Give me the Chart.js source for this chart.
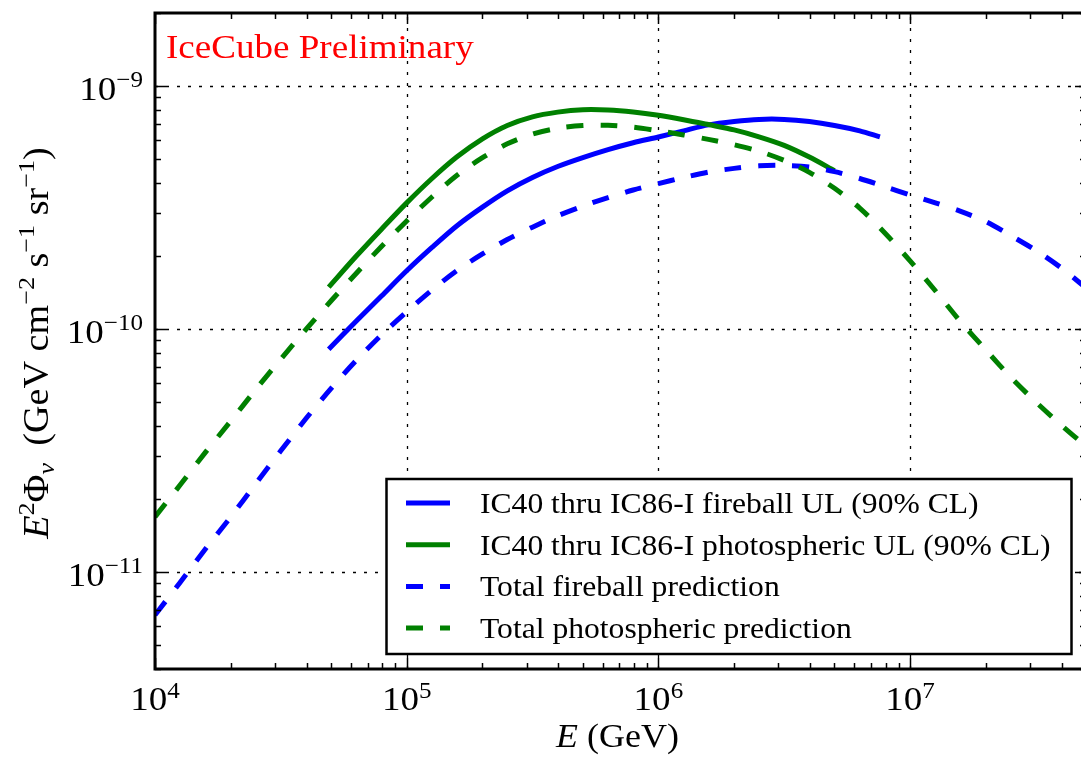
<!DOCTYPE html>
<html>
<head>
<meta charset="utf-8">
<script src="https://cdn.jsdelivr.net/npm/chart.js@4.4.0/dist/chart.umd.min.js"></script>
<style>
  html, body { margin: 0; padding: 0; background: #fff; overflow: hidden; }
  #wrap { width: 1100px; height: 760px; }
</style>
</head>
<body>
<div id="wrap"><canvas id="grbLimits" width="1100" height="760"></canvas></div>
<script>
// Energies in GeV, fluxes as E^2 Phi in GeV cm^-2 s^-1 sr^-1
const fireballUL_E = [4.9e4, 6.31e4, 7.94e4, 1e5, 1.26e5, 1.58e5, 2e5, 2.51e5, 3.16e5, 3.98e5, 5.01e5, 6.31e5, 7.94e5,
                      1e6, 1.26e6, 1.58e6, 2e6, 2.51e6, 3.16e6, 3.98e6, 5.01e6, 6.31e6, 7.59e6];
const fireballUL   = [8.28e-11, 1.08e-10, 1.37e-10, 1.74e-10, 2.17e-10, 2.66e-10, 3.18e-10, 3.71e-10, 4.21e-10, 4.67e-10, 5.08e-10, 5.48e-10, 5.85e-10,
                      6.18e-10, 6.55e-10, 6.93e-10, 7.16e-10, 7.30e-10, 7.30e-10, 7.15e-10, 6.89e-10, 6.55e-10, 6.19e-10];

const photoUL_E = [4.9e4, 6.31e4, 7.94e4, 1e5, 1.26e5, 1.58e5, 2e5, 2.51e5, 3.16e5, 3.98e5, 5.01e5, 6.31e5, 7.94e5,
                   1e6, 1.26e6, 1.58e6, 2e6, 2.51e6, 3.16e6, 3.98e6, 5.01e6];
const photoUL   = [1.49e-10, 2.00e-10, 2.58e-10, 3.31e-10, 4.17e-10, 5.11e-10, 6.07e-10, 6.89e-10, 7.48e-10, 7.82e-10, 8.00e-10, 7.98e-10, 7.83e-10,
                   7.59e-10, 7.28e-10, 6.95e-10, 6.61e-10, 6.19e-10, 5.71e-10, 5.11e-10, 4.49e-10];

// model predictions share one energy grid
const predE = [1e4, 1.26e4, 1.58e4, 2e4, 2.51e4, 3.16e4, 3.98e4, 5.01e4, 6.31e4, 7.94e4,
               1e5, 1.26e5, 1.58e5, 2e5, 2.51e5, 3.16e5, 3.98e5, 5.01e5, 6.31e5, 7.94e5,
               1e6, 1.26e6, 1.58e6, 2e6, 2.51e6, 3.16e6, 3.98e6, 5.01e6, 6.31e6, 7.94e6,
               1e7, 1.26e7, 1.58e7, 2e7, 2.51e7, 3.16e7, 3.98e7, 5e7];
const fireballPred = [6.67e-12, 9.10e-12, 1.24e-11, 1.69e-11, 2.31e-11, 3.16e-11, 4.29e-11, 5.71e-11, 7.45e-11, 9.48e-11,
                      1.18e-10, 1.45e-10, 1.74e-10, 2.04e-10, 2.34e-10, 2.63e-10, 2.93e-10, 3.21e-10, 3.48e-10, 3.74e-10,
                      3.97e-10, 4.21e-10, 4.43e-10, 4.59e-10, 4.70e-10, 4.72e-10, 4.65e-10, 4.45e-10, 4.17e-10, 3.86e-10,
                      3.57e-10, 3.31e-10, 3.06e-10, 2.77e-10, 2.43e-10, 2.11e-10, 1.79e-10, 1.48e-10];
const photoPred    = [1.69e-11, 2.29e-11, 3.10e-11, 4.19e-11, 5.64e-11, 7.53e-11, 9.98e-11, 1.31e-10, 1.70e-10, 2.19e-10,
                      2.79e-10, 3.50e-10, 4.29e-10, 5.08e-10, 5.79e-10, 6.35e-10, 6.71e-10, 6.89e-10, 6.90e-10, 6.78e-10,
                      6.55e-10, 6.30e-10, 6.04e-10, 5.74e-10, 5.40e-10, 4.95e-10, 4.42e-10, 3.80e-10, 3.15e-10, 2.49e-10,
                      1.91e-10, 1.44e-10, 1.08e-10, 8.22e-11, 6.35e-11, 5.02e-11, 4.04e-11, 3.30e-11];

const seriesLabels = [
  'IC40 thru IC86-I fireball UL (90% CL)',
  'IC40 thru IC86-I photospheric UL (90% CL)',
  'Total fireball prediction',
  'Total photospheric prediction'
];
const xDecades = [4, 5, 6, 7];
const yDecades = [-11, -10, -9];
const xRange = [1e4, 5e7];
const yRange = [4e-12, 2e-9];

const SERIF = '"Liberation Serif", "Times New Roman", serif';
const STRETCH = 1.09;   // widen Times glyphs a little towards Computer Modern proportions

function setFont(ctx, size, italic) {
  ctx.font = (italic ? 'italic ' : '') + size + 'px ' + SERIF;
}

// parts: [text, size, italic, dy]
function drawRich(ctx, parts, x, y, align) {
  let w = 0;
  parts.forEach(p => { setFont(ctx, p[1], p[2]); w += ctx.measureText(p[0]).width * STRETCH; });
  let cx = align === 'center' ? x - w / 2 : align === 'right' ? x - w : x;
  ctx.textAlign = 'left';
  ctx.textBaseline = 'alphabetic';
  parts.forEach(p => {
    setFont(ctx, p[1], p[2]);
    ctx.save();
    ctx.translate(cx, y + (p[3] || 0));
    ctx.scale(STRETCH, 1);
    ctx.fillText(p[0], 0, 0);
    ctx.restore();
    cx += ctx.measureText(p[0]).width * STRETCH;
  });
}

function supMinus(n) { return n < 0 ? '\u2212' + (-n) : String(n); }

function minorValues(decades, lo, hi) {
  const out = [];
  for (let d = decades[0] - 1; d <= decades[decades.length - 1] + 1; d++) {
    for (let m = 1; m <= 9; m++) {
      const v = m * Math.pow(10, d);
      if (v >= lo && v <= hi) out.push({ v, major: m === 1 });
    }
  }
  return out;
}

const axesPlugin = {
  id: 'mplAxes',
  beforeDatasetsDraw(chart) {
    const { ctx, chartArea: a, scales: { x, y } } = chart;
    ctx.save();
    ctx.strokeStyle = '#000';
    ctx.lineWidth = 1.3;
    ctx.setLineDash([3, 8]);
    xDecades.forEach(d => {
      const px = Math.round(x.getPixelForValue(Math.pow(10, d))) + 0.5;
      if (px <= a.left + 2) return;
      ctx.beginPath(); ctx.moveTo(px, a.bottom); ctx.lineTo(px, a.top); ctx.stroke();
    });
    yDecades.forEach(d => {
      const py = Math.round(y.getPixelForValue(Math.pow(10, d))) + 0.5;
      ctx.beginPath(); ctx.moveTo(a.left, py); ctx.lineTo(a.right, py); ctx.stroke();
    });
    ctx.restore();
  },
  afterDraw(chart) {
    const { ctx, chartArea: a, scales: { x, y } } = chart;
    ctx.save();
    ctx.fillStyle = '#000';
    ctx.strokeStyle = '#000';
    ctx.setLineDash([]);

    // inward ticks on all four sides
    ctx.lineWidth = 1.5;
    minorValues(xDecades, xRange[0], xRange[1]).forEach(t => {
      const px = Math.round(x.getPixelForValue(t.v)) + 0.5;
      const len = t.major ? 11 : 6;
      ctx.beginPath();
      ctx.moveTo(px, a.bottom); ctx.lineTo(px, a.bottom - len);
      ctx.moveTo(px, a.top); ctx.lineTo(px, a.top + len);
      ctx.stroke();
    });
    minorValues(yDecades, yRange[0], yRange[1]).forEach(t => {
      const py = Math.round(y.getPixelForValue(t.v)) + 0.5;
      const len = t.major ? 11 : 6;
      ctx.beginPath();
      ctx.moveTo(a.left, py); ctx.lineTo(a.left + len, py);
      ctx.moveTo(a.right, py); ctx.lineTo(a.right - len, py);
      ctx.stroke();
    });

    // frame
    ctx.lineWidth = 3;
    ctx.strokeRect(a.left, a.top, a.right - a.left, a.bottom - a.top);

    // tick labels
    xDecades.forEach(d => {
      const px = x.getPixelForValue(Math.pow(10, d));
      drawRich(ctx, [['10', 34], [String(d), 23, false, -12]], px, 710, 'center');
    });
    yDecades.forEach(d => {
      const py = y.getPixelForValue(Math.pow(10, d));
      drawRich(ctx, [['10', 34], [supMinus(d), 23, false, -13]], 143, py + 14, 'right');
    });

    // axis titles
    drawRich(ctx, [['E', 33, true], [' (GeV)', 33]], (a.left + a.right) / 2 - 3, 747, 'center');
    ctx.save();
    ctx.translate(48, 343);
    ctx.rotate(-Math.PI / 2);
    drawRich(ctx, [
      ['E', 35, true], ['2', 24, false, -14], ['\u03A6', 35], ['\u03BD', 24, true, 6],
      ['\u2009 (GeV cm', 35], ['\u22122', 24, false, -14],
      [' s', 35], ['\u22121', 24, false, -14],
      [' sr', 35], ['\u22121', 24, false, -14], [')', 35]
    ], 0, 0, 'center');
    ctx.restore();

    // preliminary tag
    ctx.fillStyle = '#ff0000';
    drawRich(ctx, [['IceCube Preliminary', 34]], 166, 58, 'left');

    // legend
    const box = { l: 386.5, t: 479, r: 1071.5, b: 654 };
    ctx.fillStyle = '#fff';
    ctx.fillRect(box.l, box.t, box.r - box.l, box.b - box.t);
    ctx.lineWidth = 2.5;
    ctx.strokeStyle = '#000';
    ctx.strokeRect(box.l, box.t, box.r - box.l, box.b - box.t);
    chart.data.datasets.forEach((ds, i) => {
      const ry = 503 + i * 41.7;
      ctx.save();
      ctx.strokeStyle = ds.borderColor;
      ctx.lineWidth = ds.borderWidth;
      ctx.lineCap = 'butt';
      ctx.setLineDash(ds.borderDash || []);
      ctx.beginPath(); ctx.moveTo(406, ry); ctx.lineTo(450, ry); ctx.stroke();
      ctx.restore();
      ctx.fillStyle = '#000';
      drawRich(ctx, [[ds.label, 29]], 480, ry + 10, 'left');
    });
    ctx.restore();
  }
};

function series(label, xs, ys, color, dash, order) {
  return {
    label,
    data: xs.map((e, i) => ({ x: e, y: ys[i] })),
    borderColor: color,
    borderWidth: 5,
    borderDash: dash,
    borderCapStyle: 'butt',
    borderJoinStyle: 'round',
    pointRadius: 0,
    fill: false,
    tension: 0.3,
    clip: 0,
    order
  };
}

new Chart(document.getElementById('grbLimits').getContext('2d'), {
  type: 'line',
  data: {
    datasets: [
      series(seriesLabels[0], fireballUL_E, fireballUL, '#0000ff', [], 4),
      series(seriesLabels[1], photoUL_E, photoUL, '#008000', [], 3),
      series(seriesLabels[2], predE, fireballPred, '#0000ff', [17, 17], 2),
      series(seriesLabels[3], predE, photoPred, '#008000', [17, 17], 1)
    ]
  },
  options: {
    responsive: false,
    animation: false,
    events: [],
    layout: { padding: { left: 155, top: 13, right: 14, bottom: 91 } },
    plugins: { legend: { display: false }, tooltip: { enabled: false } },
    scales: {
      x: { type: 'logarithmic', min: xRange[0], max: xRange[1], display: false },
      y: { type: 'logarithmic', min: yRange[0], max: yRange[1], display: false }
    }
  },
  plugins: [axesPlugin]
});
</script>
</body>
</html>
